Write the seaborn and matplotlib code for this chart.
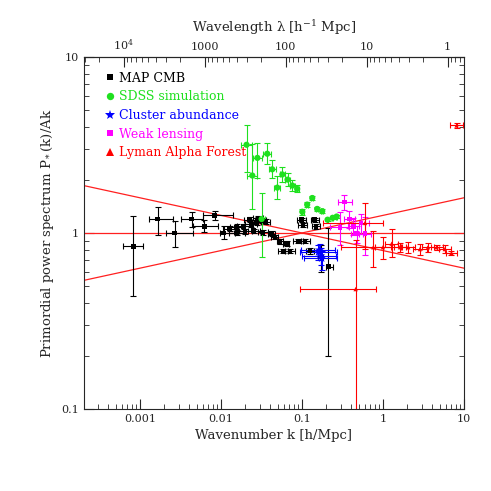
import numpy as np
import pandas as pd
import matplotlib
matplotlib.use("Agg")
import matplotlib.pyplot as plt
import seaborn as sns

# MAP CMB
map_k = [0.00083, 0.00165, 0.0027, 0.00435, 0.0062, 0.0084, 0.0108, 0.0129, 0.0157, 0.0192,
         0.0236, 0.0277, 0.0317, 0.0359, 0.0227, 0.0287, 0.0157, 0.0198, 0.0255, 0.0330,
         0.0424, 0.0465, 0.0535, 0.0645, 0.0988, 0.144, 0.103, 0.149, 0.090, 0.109,
         0.0588, 0.0712, 0.1255, 0.171, 0.211]
map_p = [0.84, 1.20, 1.00, 1.20, 1.09, 1.26, 1.00, 1.06, 1.08, 1.09,
         1.12, 1.15, 1.18, 1.16, 1.19, 1.21, 1.00, 1.02, 1.03, 1.01,
         0.99, 0.945, 0.895, 0.87, 1.19, 1.19, 1.11, 1.09, 0.90, 0.90,
         0.79, 0.79, 0.79, 0.73, 0.645]
map_klo = [0.00062, 0.0013, 0.0021, 0.0032, 0.0045, 0.0060, 0.0097, 0.0105, 0.0128, 0.0160,
           0.0200, 0.0240, 0.0275, 0.0315, 0.0195, 0.0250, 0.0125, 0.0165, 0.0215, 0.0290,
           0.0380, 0.0420, 0.0490, 0.0590, 0.0870, 0.128, 0.090, 0.133, 0.078, 0.096,
           0.051, 0.062, 0.112, 0.160, 0.200]
map_khi = [0.00108, 0.00255, 0.0045, 0.0060, 0.0093, 0.0142, 0.0149, 0.0160, 0.0192, 0.0236,
           0.0278, 0.0320, 0.0365, 0.0405, 0.0262, 0.0330, 0.0200, 0.0240, 0.0300, 0.0380,
           0.0470, 0.0510, 0.0580, 0.0700, 0.112, 0.162, 0.117, 0.168, 0.103, 0.124,
           0.067, 0.081, 0.141, 0.183, 0.240]
map_plo = [0.44, 0.98, 0.83, 1.08, 1.01, 1.18, 0.93, 1.02, 1.04, 1.05,
           1.08, 1.11, 1.14, 1.12, 1.15, 1.17, 0.97, 0.99, 1.00, 0.98,
           0.96, 0.92, 0.87, 0.84, 1.16, 1.16, 1.08, 1.06, 0.88, 0.88,
           0.77, 0.77, 0.76, 0.60, 0.20]
map_phi = [1.25, 1.41, 1.17, 1.32, 1.18, 1.33, 1.09, 1.10, 1.12, 1.13,
           1.16, 1.19, 1.22, 1.20, 1.23, 1.25, 1.03, 1.05, 1.06, 1.04,
           1.02, 0.97, 0.92, 0.90, 1.22, 1.22, 1.14, 1.12, 0.92, 0.92,
           0.81, 0.81, 0.82, 0.85, 1.07]

# SDSS simulation
sdss_k = [0.0207, 0.0244, 0.0282, 0.0318, 0.0373, 0.0430, 0.0496, 0.0573, 0.0664, 0.0761,
          0.0873, 0.101, 0.116, 0.134, 0.154, 0.178, 0.207, 0.239, 0.268]
sdss_p = [3.17, 2.12, 2.67, 1.20, 2.82, 2.30, 1.81, 2.15, 2.01, 1.86,
          1.78, 1.32, 1.45, 1.58, 1.37, 1.33, 1.19, 1.22, 1.24]
sdss_klo = [0.0178, 0.0212, 0.0250, 0.0290, 0.0335, 0.0392, 0.0455, 0.0530, 0.0620, 0.0715,
            0.0825, 0.097, 0.112, 0.130, 0.150, 0.174, 0.203, 0.235, 0.264]
sdss_khi = [0.0242, 0.0280, 0.0318, 0.0348, 0.0415, 0.0472, 0.0540, 0.0620, 0.0710, 0.0810,
            0.0925, 0.105, 0.120, 0.138, 0.158, 0.182, 0.211, 0.243, 0.272]
sdss_plo = [2.21, 1.37, 2.06, 0.73, 2.45, 2.05, 1.55, 1.95, 1.85, 1.74,
            1.70, 1.27, 1.40, 1.53, 1.33, 1.30, 1.17, 1.20, 1.22]
sdss_phi = [4.13, 3.21, 3.24, 1.68, 3.25, 2.60, 2.10, 2.38, 2.18, 1.99,
            1.87, 1.37, 1.50, 1.63, 1.41, 1.36, 1.21, 1.24, 1.26]

# Cluster abundance
clus_k = [0.160, 0.170, 0.165, 0.175]
clus_p = [0.78, 0.74, 0.80, 0.72]
clus_klo = [0.094, 0.100, 0.097, 0.105]
clus_khi = [0.268, 0.260, 0.255, 0.270]
clus_plo = [0.70, 0.66, 0.73, 0.62]
clus_phi = [0.85, 0.82, 0.87, 0.79]

# Weak lensing
wl_k = [0.333, 0.295, 0.384, 0.43, 0.474, 0.535, 0.60]
wl_p = [1.50, 1.08, 1.20, 1.09, 0.99, 1.14, 0.99]
wl_klo = [0.28, 0.22, 0.33, 0.37, 0.40, 0.43, 0.50]
wl_khi = [0.41, 0.38, 0.45, 0.50, 0.56, 0.68, 0.72]
wl_plo = [1.35, 0.85, 1.07, 0.97, 0.88, 0.99, 0.75]
wl_phi = [1.65, 1.31, 1.33, 1.21, 1.10, 1.29, 1.24]

# Lyman Alpha Forest
ly_k = [0.46, 0.60, 0.76, 1.00, 1.28, 1.62, 2.05, 2.86, 3.6, 4.6, 5.8, 7.0, 8.1]
ly_p = [0.48, 1.14, 0.83, 0.83, 0.87, 0.83, 0.83, 0.81, 0.83, 0.83, 0.81, 0.77, 4.08]
ly_klo = [0.094, 0.18, 0.30, 0.80, 1.05, 1.35, 1.70, 2.35, 3.0, 3.9, 4.9, 6.0, 6.7]
ly_khi = [0.82, 1.0, 1.65, 1.25, 1.55, 1.95, 2.45, 3.45, 4.3, 5.5, 6.9, 8.2, 9.8]
ly_plo = [0.05, 0.81, 0.64, 0.71, 0.73, 0.78, 0.77, 0.75, 0.78, 0.80, 0.77, 0.75, 3.95]
ly_phi = [0.91, 1.48, 1.03, 0.95, 1.06, 0.88, 0.89, 0.87, 0.88, 0.86, 0.85, 0.79, 4.21]

# model power laws P = (k/k_pivot)^tilt
tilts = [-0.1, 0.0, 0.1]
k_pivot = 0.1
k_range = [2.04e-4, 10.0]

surveys = ["MAP CMB", "SDSS simulation", "Cluster abundance", "Weak lensing", "Lyman Alpha Forest"]
colors = {"MAP CMB": "black", "SDSS simulation": "#1fe01f", "Cluster abundance": "#0000ff",
          "Weak lensing": "#ff00ff", "Lyman Alpha Forest": "#ff0000"}
markers = {"MAP CMB": "s", "SDSS simulation": "o", "Cluster abundance": "*",
           "Weak lensing": "s", "Lyman Alpha Forest": "^"}
sizes = {"MAP CMB": 12, "SDSS simulation": 20, "Cluster abundance": 50,
         "Weak lensing": 12, "Lyman Alpha Forest": 10}
legend_sizes = {"MAP CMB": 22, "SDSS simulation": 28, "Cluster abundance": 55,
                "Weak lensing": 22, "Lyman Alpha Forest": 28}

sets = [(map_k, map_p, map_klo, map_khi, map_plo, map_phi),
        (sdss_k, sdss_p, sdss_klo, sdss_khi, sdss_plo, sdss_phi),
        (clus_k, clus_p, clus_klo, clus_khi, clus_plo, clus_phi),
        (wl_k, wl_p, wl_klo, wl_khi, wl_plo, wl_phi),
        (ly_k, ly_p, ly_klo, ly_khi, ly_plo, ly_phi)]

frames = []
for name, (k, p, klo, khi, plo, phi) in zip(surveys, sets):
    frames.append(pd.DataFrame({"k": k, "P": p, "klo": klo, "khi": khi,
                                "plo": plo, "phi": phi, "survey": name}))
df = pd.concat(frames, ignore_index=True)

sns.set_style("ticks")
plt.rcParams['font.family'] = ['DejaVu Serif']
plt.rcParams['mathtext.fontset'] = 'dejavuserif'

fig = plt.figure(figsize=(4.91, 4.91), dpi=100)
ax = fig.add_axes([0.171, 0.167, 0.774, 0.717])
ax.set_xscale('log')
ax.set_yscale('log')

# model lines
kk = np.array(k_range)
for t in tilts:
    sns.lineplot(x=kk, y=(kk / k_pivot) ** t, color='#ff2020', lw=0.9, ax=ax, zorder=1)

# error bars
for name in surveys:
    d = df[df.survey == name]
    ax.errorbar(d.k, d.P, xerr=[d.k - d.klo, d.khi - d.k], yerr=[d.P - d.plo, d.phi - d.P],
                fmt='none', ecolor=colors[name], elinewidth=0.8, capsize=2, capthick=0.8, zorder=2)

sns.scatterplot(data=df, x='k', y='P', hue='survey', style='survey', size='survey',
                hue_order=surveys, style_order=surveys, size_order=surveys,
                palette=colors, markers=markers, sizes=sizes,
                edgecolor='none', ax=ax, zorder=3)

ax.set_xlim(k_range)
ax.set_ylim(0.1, 10)
ax.set_xticks([0.001, 0.01, 0.1, 1, 10], labels=['0.001', '0.01', '0.1', '1', '10'])
ax.set_yticks([0.1, 1, 10], labels=['0.1', '1', '10'])
ax.tick_params(which='both', direction='in', top=False, right=True, labelsize=8)
ax.tick_params(which='major', length=7, width=0.8)
ax.tick_params(which='minor', length=3.5, width=0.6)
ax.set_xlabel('Wavenumber k [h/Mpc]', fontsize=9.5)
ax.set_ylabel('Primordial power spectrum P$_*$(k)/Ak', fontsize=9.5)

secax = ax.secondary_xaxis('top', functions=(lambda k: 2 * np.pi / np.asarray(k, float),
                                             lambda l: 2 * np.pi / np.asarray(l, float)))
secax.set_xticks([1e4, 1e3, 100, 10, 1], labels=['10$^4$', '1000', '100', '10', '1'])
secax.tick_params(which='both', direction='in', labelsize=8)
secax.tick_params(which='major', length=7, width=0.8)
secax.tick_params(which='minor', length=3.5, width=0.6)
secax.set_xlabel('Wavelength λ [h$^{-1}$ Mpc]', fontsize=9.5)

handles, labels = ax.get_legend_handles_labels()
leg = ax.legend(handles, labels, loc='upper left', bbox_to_anchor=(0.02, 0.99), frameon=False,
                fontsize=9, handletextpad=0.1, labelspacing=0.45, handlelength=1.2)
for txt, name in zip(leg.get_texts(), labels):
    txt.set_color(colors[name])
for h, name in zip(leg.legend_handles, labels):
    if hasattr(h, 'set_markersize'):
        h.set_markersize(np.sqrt(legend_sizes[name]))
    elif hasattr(h, 'set_sizes'):
        h.set_sizes([legend_sizes[name]])

fig.savefig('out.png', dpi=100)
